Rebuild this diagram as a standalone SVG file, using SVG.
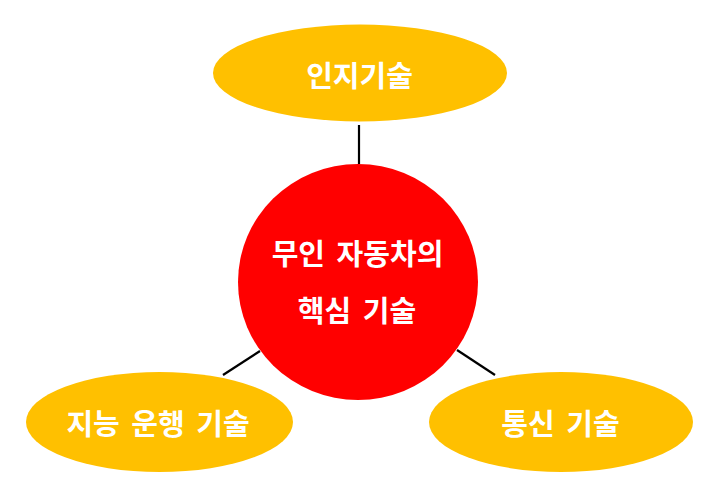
<svg xmlns="http://www.w3.org/2000/svg" width="716" height="496" viewBox="0 0 716 496">
<style>
.lbl{font-family:"Noto Sans CJK KR","Noto Sans",sans-serif;font-weight:bold;font-size:29px;word-spacing:5px;fill:#ffffff;text-anchor:middle}
.sub{fill:#FFC000}
.con{stroke:#000;stroke-width:2.2;fill:none}
</style>
<rect width="716" height="496" fill="#fff"/>
<g id="connectors">
<line class="con" x1="359" y1="125" x2="359" y2="164"/>
<line class="con" x1="223" y1="375" x2="260" y2="351"/>
<line class="con" x1="457" y1="350" x2="495" y2="375"/>
</g>
<g id="node-center">
<ellipse cx="358" cy="282" rx="120" ry="118" fill="#FF0000"/>
<text class="lbl" x="357.5" y="265">무인 자동차의</text>
<text class="lbl" x="357" y="322">핵심 기술</text>
</g>
<g id="node-perception">
<ellipse class="sub" cx="360" cy="73" rx="147" ry="48.5"/>
<text class="lbl" x="359.5" y="87">인지기술</text>
</g>
<g id="node-driving">
<ellipse class="sub" cx="159.5" cy="422" rx="133.5" ry="50"/>
<text class="lbl" x="158" y="435">지능 운행 기술</text>
</g>
<g id="node-comm">
<ellipse class="sub" cx="561" cy="422" rx="132" ry="50"/>
<text class="lbl" x="560.5" y="435">통신 기술</text>
</g>
</svg>
